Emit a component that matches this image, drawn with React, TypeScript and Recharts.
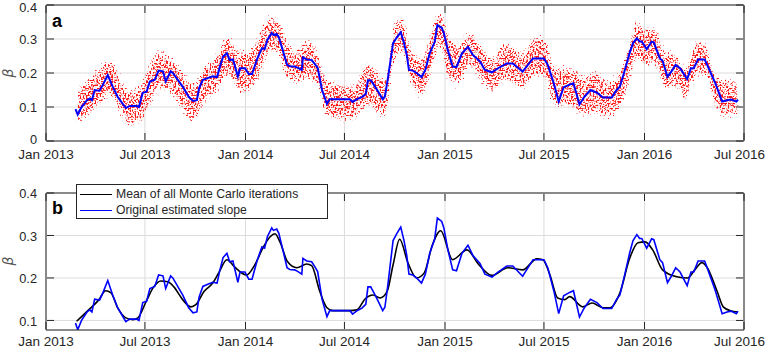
import React from "react";
import { ComposedChart, Line, Area, XAxis, YAxis, CartesianGrid } from "recharts";

// Original estimated slope (beta) through time
const slopeDates = [
  "2013-02-24", "2013-02-28", "2013-03-07", "2013-03-17", "2013-03-22", "2013-03-26", "2013-03-31", "2013-04-09",
  "2013-04-15", "2013-04-24", "2013-05-03", "2013-05-12", "2013-05-27", "2013-06-03", "2013-06-16", "2013-06-20",
  "2013-06-27", "2013-07-04", "2013-07-10", "2013-07-19", "2013-07-26", "2013-08-03", "2013-08-08", "2013-08-17",
  "2013-08-21", "2013-09-08", "2013-09-19", "2013-09-27", "2013-10-04", "2013-10-08", "2013-10-15", "2013-10-24",
  "2013-11-02", "2013-11-10", "2013-11-15", "2013-11-21", "2013-11-28", "2013-12-03", "2013-12-09", "2013-12-18",
  "2013-12-22", "2013-12-31", "2014-01-07", "2014-01-13", "2014-01-22", "2014-01-31", "2014-02-05", "2014-02-10",
  "2014-02-18", "2014-02-21", "2014-02-27", "2014-03-03", "2014-03-10", "2014-03-18", "2014-03-23", "2014-04-01",
  "2014-04-07", "2014-04-14", "2014-04-16", "2014-04-23", "2014-05-02", "2014-05-08", "2014-05-13", "2014-05-21",
  "2014-05-30", "2014-06-04", "2014-06-19", "2014-07-11", "2014-07-16", "2014-07-24", "2014-08-02", "2014-08-09",
  "2014-08-13", "2014-08-18", "2014-08-24", "2014-08-31", "2014-09-09", "2014-09-13", "2014-09-18", "2014-09-28",
  "2014-10-05", "2014-10-12", "2014-10-18", "2014-10-23", "2014-10-27", "2014-11-03", "2014-11-10", "2014-11-19",
  "2014-11-26", "2014-12-04", "2014-12-13", "2014-12-18", "2014-12-26", "2014-12-30", "2015-01-06", "2015-01-15",
  "2015-01-22", "2015-02-01", "2015-02-12", "2015-02-21", "2015-03-06", "2015-03-15", "2015-03-28", "2015-04-08",
  "2015-04-24", "2015-05-05", "2015-05-23", "2015-06-11", "2015-07-01", "2015-07-08", "2015-07-19", "2015-07-28",
  "2015-08-06", "2015-08-17", "2015-08-24", "2015-09-04", "2015-09-13", "2015-09-24", "2015-10-06", "2015-10-17",
  "2015-11-02", "2015-11-11", "2015-11-17", "2015-11-26", "2015-12-05", "2015-12-11", "2015-12-18", "2015-12-23",
  "2015-12-27", "2016-01-05", "2016-01-14", "2016-01-18", "2016-01-29", "2016-02-03", "2016-02-12", "2016-02-19",
  "2016-02-27", "2016-03-06", "2016-03-19", "2016-03-26", "2016-03-31", "2016-04-08", "2016-04-20", "2016-04-26",
  "2016-05-09", "2016-05-22", "2016-05-31", "2016-06-07", "2016-06-17", "2016-06-20",
];
const slopeValues = [
  0.094, 0.078, 0.100, 0.120, 0.125, 0.120, 0.150, 0.148,
  0.165, 0.194, 0.160, 0.130, 0.097, 0.103, 0.103, 0.100,
  0.142, 0.145, 0.175, 0.180, 0.207, 0.205, 0.175, 0.205,
  0.200, 0.160, 0.130, 0.118, 0.120, 0.155, 0.180, 0.185,
  0.190, 0.188, 0.218, 0.248, 0.258, 0.238, 0.240, 0.190,
  0.214, 0.214, 0.197, 0.197, 0.240, 0.273, 0.270, 0.297,
  0.318, 0.312, 0.315, 0.305, 0.268, 0.224, 0.220, 0.219,
  0.215, 0.209, 0.246, 0.240, 0.238, 0.226, 0.215, 0.150,
  0.109, 0.123, 0.123, 0.123, 0.115, 0.123, 0.129, 0.138,
  0.179, 0.179, 0.165, 0.147, 0.123, 0.131, 0.179, 0.288,
  0.305, 0.320, 0.288, 0.253, 0.209, 0.207, 0.200, 0.188,
  0.209, 0.258, 0.291, 0.341, 0.333, 0.317, 0.268, 0.219,
  0.217, 0.258, 0.277, 0.253, 0.234, 0.209, 0.202, 0.214,
  0.228, 0.228, 0.204, 0.243, 0.243, 0.224, 0.170, 0.116,
  0.158, 0.166, 0.170, 0.108, 0.130, 0.150, 0.142, 0.128,
  0.128, 0.150, 0.160, 0.209, 0.260, 0.288, 0.302, 0.293,
  0.293, 0.270, 0.292, 0.290, 0.243, 0.236, 0.189, 0.204,
  0.224, 0.214, 0.182, 0.214, 0.214, 0.240, 0.240, 0.219,
  0.172, 0.116, 0.120, 0.122, 0.116, 0.122,
];

// Mean of all Monte Carlo iterations
const meanDates = [
  "2013-02-26", "2013-03-20", "2013-04-08", "2013-04-20", "2013-04-30", "2013-05-12", "2013-05-27", "2013-06-09",
  "2013-06-18", "2013-07-03", "2013-07-17", "2013-07-30", "2013-08-12", "2013-08-23", "2013-09-08", "2013-09-23",
  "2013-10-02", "2013-10-17", "2013-11-02", "2013-11-13", "2013-11-28", "2013-12-12", "2014-01-03", "2014-01-18",
  "2014-02-02", "2014-02-15", "2014-02-24", "2014-03-05", "2014-03-19", "2014-04-05", "2014-04-23", "2014-05-02",
  "2014-05-17", "2014-05-30", "2014-06-10", "2014-07-11", "2014-07-24", "2014-08-08", "2014-08-22", "2014-09-04",
  "2014-09-17", "2014-09-28", "2014-10-10", "2014-10-25", "2014-11-10", "2014-11-24", "2014-12-09", "2014-12-24",
  "2015-01-15", "2015-02-10", "2015-03-04", "2015-03-28", "2015-04-26", "2015-05-23", "2015-06-18", "2015-06-29",
  "2015-07-12", "2015-07-26", "2015-08-08", "2015-08-17", "2015-09-10", "2015-09-27", "2015-10-17", "2015-10-30",
  "2015-11-17", "2015-12-05", "2015-12-20", "2016-01-02", "2016-01-16", "2016-02-03", "2016-02-29", "2016-03-20",
  "2016-04-02", "2016-04-15", "2016-04-24", "2016-05-13", "2016-05-24", "2016-06-06", "2016-06-20",
];
const meanValues = [
  0.098, 0.125, 0.149, 0.170, 0.165, 0.130, 0.106, 0.102,
  0.106, 0.144, 0.179, 0.193, 0.191, 0.179, 0.149, 0.132,
  0.137, 0.168, 0.188, 0.212, 0.243, 0.226, 0.207, 0.231,
  0.271, 0.297, 0.304, 0.285, 0.238, 0.224, 0.233, 0.229,
  0.168, 0.130, 0.123, 0.123, 0.125, 0.151, 0.160, 0.153,
  0.168, 0.231, 0.291, 0.236, 0.200, 0.212, 0.278, 0.311,
  0.243, 0.266, 0.231, 0.206, 0.224, 0.219, 0.245, 0.243,
  0.207, 0.153, 0.149, 0.156, 0.132, 0.141, 0.130, 0.130,
  0.165, 0.247, 0.283, 0.285, 0.266, 0.219, 0.203, 0.200,
  0.219, 0.236, 0.226, 0.168, 0.132, 0.123, 0.120,
];

// Spread of the Monte Carlo iterations (lower / upper edge of the cloud)
const cloudDates = [
  "2013-02-26", "2013-03-22", "2013-04-19", "2013-05-01", "2013-05-16", "2013-06-03", "2013-06-22", "2013-07-10",
  "2013-07-28", "2013-08-16", "2013-09-03", "2013-09-27", "2013-10-19", "2013-11-06", "2013-11-30", "2013-12-22",
  "2014-01-09", "2014-01-27", "2014-02-15", "2014-02-27", "2014-03-18", "2014-04-05", "2014-04-23", "2014-05-12",
  "2014-05-30", "2014-06-23", "2014-07-20", "2014-08-11", "2014-08-29", "2014-09-13", "2014-10-01", "2014-10-14",
  "2014-11-01", "2014-11-19", "2014-12-07", "2014-12-22", "2015-01-09", "2015-01-27", "2015-02-15", "2015-03-06",
  "2015-03-30", "2015-04-17", "2015-04-30", "2015-05-22", "2015-06-14", "2015-07-03", "2015-07-21", "2015-08-08",
  "2015-08-26", "2015-09-13", "2015-10-02", "2015-10-24", "2015-11-11", "2015-11-30", "2015-12-18", "2016-01-05",
  "2016-01-20", "2016-02-07", "2016-02-26", "2016-03-15", "2016-04-06", "2016-04-20", "2016-05-09", "2016-05-27",
  "2016-06-20",
];
const cloudLow = [
  0.040, 0.077, 0.120, 0.130, 0.080, 0.042, 0.052, 0.100,
  0.150, 0.140, 0.100, 0.052, 0.115, 0.135, 0.190, 0.140,
  0.150, 0.190, 0.260, 0.258, 0.179, 0.170, 0.180, 0.160,
  0.070, 0.061, 0.061, 0.100, 0.080, 0.070, 0.238, 0.260,
  0.160, 0.130, 0.199, 0.277, 0.170, 0.170, 0.218, 0.180,
  0.140, 0.170, 0.170, 0.150, 0.190, 0.180, 0.100, 0.100,
  0.090, 0.070, 0.080, 0.070, 0.080, 0.150, 0.238, 0.218,
  0.228, 0.150, 0.160, 0.120, 0.190, 0.190, 0.100, 0.070,
  0.080,
];
const cloudHigh = [
  0.155, 0.188, 0.233, 0.238, 0.190, 0.150, 0.165, 0.228,
  0.268, 0.248, 0.218, 0.170, 0.225, 0.245, 0.312, 0.265,
  0.270, 0.320, 0.370, 0.366, 0.297, 0.268, 0.297, 0.270,
  0.180, 0.170, 0.165, 0.233, 0.209, 0.180, 0.356, 0.366,
  0.268, 0.248, 0.326, 0.385, 0.307, 0.287, 0.326, 0.287,
  0.248, 0.287, 0.287, 0.258, 0.307, 0.300, 0.218, 0.218,
  0.213, 0.190, 0.210, 0.180, 0.190, 0.268, 0.351, 0.336,
  0.336, 0.268, 0.258, 0.218, 0.297, 0.290, 0.200, 0.180,
  0.180,
];

const xTickDates = [
  "2013-01-01", "2013-07-01", "2014-01-01", "2014-07-01",
  "2015-01-01", "2015-07-01", "2016-01-01", "2016-07-01",
];
const topYTicks = [0, 0.1, 0.2, 0.3, 0.4];
const bottomYTicks = [0.1, 0.2, 0.3, 0.4];
const legendLabels = ["Mean of all Monte Carlo iterations", "Original estimated slope"];
const panelLabels = ["a", "b"];
const yAxisTitle = "\u03b2";
const monthNames = ["Jan", "Feb", "Mar", "Apr", "May", "Jun", "Jul", "Aug", "Sep", "Oct", "Nov", "Dec"];

const toTime = (d: string) => Date.parse(d + "T00:00:00Z");

const slopeData = slopeDates.map((d, i) => ({ t: toTime(d), v: slopeValues[i] }));
const meanData = meanDates.map((d, i) => ({ t: toTime(d), v: meanValues[i] }));
const cloudData = cloudDates.map((d, i) => ({ t: toTime(d), band: [cloudLow[i], cloudHigh[i]] }));
const xTicks = xTickDates.map(toTime);
const xDomain: [number, number] = [xTicks[0], xTicks[xTicks.length - 1]];

const W = 767;
const AXIS = "#262626";
const GRID = "#dcdcdc";
const FONT = "'Liberation Sans', Arial, Helvetica, sans-serif";
const TICK_LEN = 7;
const Y_FONT = 12.8;

const fmtDate = (v: number) => {
  const d = new Date(v);
  return `${monthNames[d.getUTCMonth()]} ${d.getUTCFullYear()}`;
};
const fmtNum = (v: number) => (v === 0 ? "0" : String(Math.round(v * 10) / 10));

// Inward-pointing ticks; the axes are 1px thick so that the tick anchor sits on the plot edge.
const BottomTick = (p: any) => {
  const nearEdge = p.x + 26 > W - 1;
  return (
    <g>
      <line x1={p.x} y1={p.y - 1} x2={p.x} y2={p.y - 1 - TICK_LEN} stroke={AXIS} strokeWidth={1} />
      <text x={nearEdge ? W - 2 : p.x} y={p.y + (p.labelGap ?? 16)} textAnchor={nearEdge ? "end" : "middle"}
        fill={AXIS} fontSize={13.5} fontFamily={FONT}>
        {fmtDate(p.payload.value)}
      </text>
    </g>
  );
};
const TopTick = (p: any) => (
  <line x1={p.x} y1={p.y + 1} x2={p.x} y2={p.y + 1 + TICK_LEN} stroke={AXIS} strokeWidth={1} />
);
const LeftTick = (p: any) => {
  let baseline = Math.max(p.y + 0.42 * Y_FONT, 12);
  if (p.payload.value === 0) baseline = p.y + 3;
  return (
    <g>
      <line x1={p.x + 1} y1={p.y} x2={p.x + 1 + TICK_LEN} y2={p.y} stroke={AXIS} strokeWidth={1} />
      <text x={p.x - 9} y={baseline} textAnchor="end" fill={AXIS} fontSize={Y_FONT} fontFamily={FONT}>
        {fmtNum(p.payload.value)}
      </text>
    </g>
  );
};
const RightTick = (p: any) => (
  <line x1={p.x - 1} y1={p.y} x2={p.x - 1 - TICK_LEN} y2={p.y} stroke={AXIS} strokeWidth={1} />
);

const axisLine = { stroke: AXIS, strokeWidth: 1 };

function axes(yDomain: [number, number], yTicks: number[], labelGap: number) {
  return [
    <CartesianGrid key="g" stroke={GRID} strokeWidth={1} />,
    <XAxis key="xb" dataKey="t" type="number" domain={xDomain} ticks={xTicks} interval={0}
      allowDataOverflow height={1} tickSize={0} tickMargin={0} tickLine={false}
      axisLine={axisLine} tick={<BottomTick labelGap={labelGap} />} />,
    <XAxis key="xt" xAxisId="top" orientation="top" dataKey="t" type="number" domain={xDomain}
      ticks={xTicks} interval={0} allowDataOverflow height={1} tickSize={0} tickMargin={0}
      tickLine={false} axisLine={axisLine} tick={<TopTick />} />,
    <YAxis key="yl" type="number" domain={yDomain} ticks={yTicks} interval={0} allowDataOverflow
      width={1} tickSize={0} tickMargin={0} tickLine={false} axisLine={axisLine} tick={<LeftTick />} />,
    <YAxis key="yr" yAxisId="right" orientation="right" type="number" domain={yDomain} ticks={yTicks}
      interval={0} allowDataOverflow width={1} tickSize={0} tickMargin={0} tickLine={false}
      axisLine={axisLine} tick={<RightTick />} />,
  ];
}

export default function App() {
  return (
    <div style={{ position: "absolute", left: 0, top: 0, width: W, height: 349, background: "#fff" }}>
      <style>{`.mc-cloud { filter: url(#mcCloud); }`}</style>
      <svg width={0} height={0} style={{ position: "absolute" }}>
        <defs>
          {/* speckled cloud: noise thresholded inside a vertically softened band */}
          <filter id="mcCloud" x="-3%" y="-25%" width="106%" height="150%" colorInterpolationFilters="sRGB">
            <feGaussianBlur in="SourceAlpha" stdDeviation="1.5 4" result="soft" />
            <feTurbulence type="fractalNoise" baseFrequency="0.6" numOctaves={1} seed={11} result="noise" />
            <feComposite in="soft" in2="noise" operator="arithmetic" k1={0} k2={0.35} k3={1} k4={-0.82} result="mix" />
            <feColorMatrix in="mix" type="matrix"
              values="0 0 0 0 1  0 0 0 0 0.1  0 0 0 0 0.1  0 0 0 8 0" />
          </filter>
        </defs>
      </svg>

      <div style={{ position: "absolute", left: 0, top: 0 }}>
        <ComposedChart width={W} height={175} margin={{ top: 4, right: 22, bottom: 33, left: 45 }}>
          {axes([0, 0.4], topYTicks, 18)}
          <Area data={cloudData} dataKey="band" type="monotone" stroke="none" fill="#ff0000"
            fillOpacity={1} className="mc-cloud" isAnimationActive={false} />
          <Line data={slopeData} dataKey="v" type="linear" stroke="#0000ff" strokeWidth={2}
            dot={false} isAnimationActive={false} />
        </ComposedChart>
      </div>

      <div style={{ position: "absolute", left: 0, top: 175 }}>
        <ComposedChart width={W} height={174} margin={{ top: 17, right: 22, bottom: 18, left: 45 }}>
          {axes([0.0775, 0.4], bottomYTicks, 16)}
          <Line data={meanData} dataKey="v" type="monotone" stroke="#000000" strokeWidth={1.6}
            dot={false} isAnimationActive={false} />
          <Line data={slopeData} dataKey="v" type="linear" stroke="#0000ff" strokeWidth={1.6}
            dot={false} isAnimationActive={false} />
        </ComposedChart>
      </div>

      {/* legend of panel b */}
      <div style={{
        position: "absolute", left: 76, top: 184, width: 252, height: 35, boxSizing: "border-box",
        border: `1px solid ${AXIS}`, background: "#fff", fontFamily: FONT, fontSize: 12.2, color: AXIS,
      }}>
        {legendLabels.map((label, i) => (
          <div key={label} style={{ position: "absolute", left: 3, top: i === 0 ? 2 : 18, height: 14, display: "flex", alignItems: "center" }}>
            <div style={{ width: 32, height: 0, borderTop: `1.6px solid ${i === 0 ? "#000" : "#0000ff"}` }} />
            <span style={{ marginLeft: 4, whiteSpace: "nowrap", lineHeight: "14px" }}>{label}</span>
          </div>
        ))}
      </div>

      {/* panel letters and y-axis titles */}
      <svg width={W} height={349} style={{ position: "absolute", left: 0, top: 0, pointerEvents: "none" }}>
        <text x={52} y={27} fontSize={18} fontWeight="bold" fontFamily={FONT} fill="#000">{panelLabels[0]}</text>
        <text x={52} y={214} fontSize={18} fontWeight="bold" fontFamily={FONT} fill="#000">{panelLabels[1]}</text>
        <text transform="translate(13,73) rotate(-90)" textAnchor="middle" fontSize={14} fontStyle="italic"
          fontFamily="'DejaVu Sans', sans-serif" fill="#555">{yAxisTitle}</text>
        <text transform="translate(13,261) rotate(-90)" textAnchor="middle" fontSize={14} fontStyle="italic"
          fontFamily="'DejaVu Sans', sans-serif" fill="#555">{yAxisTitle}</text>
      </svg>
    </div>
  );
}
